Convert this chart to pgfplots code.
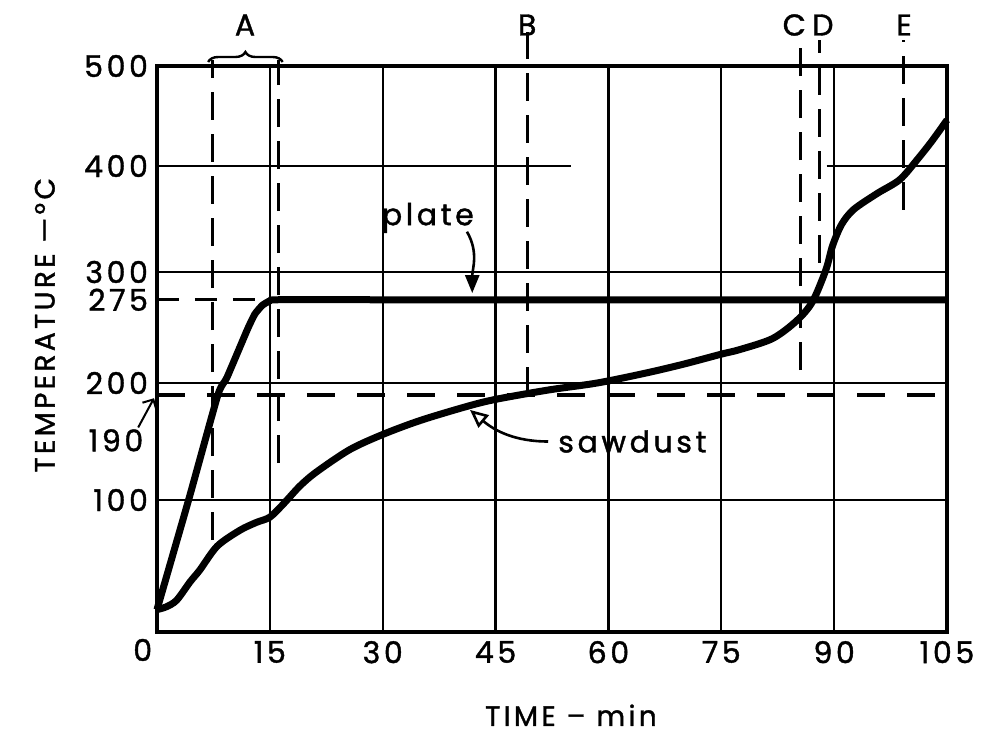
\documentclass[border=0pt]{standalone}
\usepackage{pgfplots}
\pgfplotsset{compat=1.18}
\usepackage{fontspec}
\setmainfont{Poppins}[LetterSpace=12, FakeBold=1.3]
\usetikzlibrary{decorations.pathreplacing,arrows.meta}

\begin{document}
\begin{tikzpicture}[font=\fontsize{15}{17}\selectfont]
\begin{axis}[
  at={(0,0)}, anchor=south west,
  scale only axis, width=395pt, height=283pt,
  xmin=0, xmax=105, ymin=0, ymax=500,
  y coord trafo/.code={\pgfmathparse{1.32*min(#1,100)+1.17*max(min(#1,200)-100,0)+1.11*max(min(#1,300)-200,0)+1.06*max(min(#1,400)-300,0)+max(#1-400,0)}},
  clip=false,
  axis line style={line width=2pt},
  xtick={15,30,45,60,75,90,105},
  xticklabels={15,30,45,60,75,90,105},
  ytick={100,200,275,300,400,500},
  yticklabels={100,200,275,300,400,500},
  tick style={draw=none},
  xmajorgrids,
  grid style={line width=1.1pt, black},
  xticklabel style={yshift=-1pt},
  yticklabel style={xshift=-1pt},
]
% horizontal grid lines
\addplot[black, line width=1.1pt] coordinates {(0,100) (105,100)};
\addplot[black, line width=1.1pt] coordinates {(0,200) (105,200)};
\addplot[black, line width=1.1pt] coordinates {(0,300) (105,300)};
\addplot[black, line width=1.1pt] coordinates {(0,400) (55,400)};
\addplot[black, line width=1.1pt] coordinates {(89,400) (105,400)};
% guide lines
\addplot[black, line width=1.5pt, dash pattern=on 11pt off 8pt] coordinates {(0,275) (15.5,275)};
\addplot[black, line width=2pt, dash pattern=on 14pt off 11pt] coordinates {(0,190) (105,190)};
% vertical dashed markers
\addplot[black, line width=1.5pt, dash pattern=on 14pt off 7pt] coordinates {(7.4,69.7) (7.4,506)};
\addplot[black, line width=1.5pt, dash pattern=on 14pt off 7pt] coordinates {(16.2,131.6) (16.2,506)};
\addplot[black, line width=1.5pt, dash pattern=on 14pt off 7pt] coordinates {(49.2,190) (49.2,534)};
\addplot[black, line width=1.5pt, dash pattern=on 14pt off 7pt] coordinates {(85.5,211.7) (85.5,526)};
\addplot[black, line width=1.5pt, dash pattern=on 14pt off 7pt] coordinates {(88.1,308.5) (88.1,526)};
\addplot[black, line width=1.5pt, dash pattern=on 14pt off 7pt] coordinates {(99.2,358.5) (99.2,526)};
% plate
\addplot[black, line width=3.5pt, smooth, tension=0.3] coordinates {
  (0,17) (4.2,100) (8.1,190) (9.3,205) (12,248) (13,262) (14,270) (15,274) (16,275) (30,275) (60,275) (105,275)};
% sawdust
\addplot[black, line width=3.5pt, smooth, tension=0.5] coordinates {
  (0,17) (1.2,19) (2.6,24) (4.4,38) (5.7,47) (8,65) (11,77) (13.2,83) (15,87)
  (16.8,97) (19,112) (21.2,124) (25.6,143) (30,156) (35,168) (41.2,180)
  (45,186) (52,194) (58.5,200) (65,209) (70,217) (75,226) (77.4,230)
  (81.8,240) (85,256) (87.1,273) (88.9,302) (89.8,325) (91,345) (92.6,359)
  (95.7,374) (98.7,387) (101,406) (103,425) (105,446)};
% letters and brace
\node at (axis cs:11.7,541) {A};
\node at (axis cs:49.2,541) {B};
\node at (axis cs:84.7,541) {C};
\node at (axis cs:88.5,541) {D};
\node at (axis cs:99.3,541) {E};
\draw[decorate, decoration={brace, amplitude=5pt}, line width=1.2pt] (axis cs:6.8,504) -- (axis cs:16.7,504);
% origin and 190 labels
\node at (axis cs:-1.9,-13.6) {0};
\node at (axis cs:-5.45,151) {190};
\draw[line width=1pt, -{Straight Barb[length=4pt]}] (axis cs:-2.5,162) -- (axis cs:-0.4,187);
% plate annotation
\node at (axis cs:36.0,351) {plate};
\draw[line width=1.3pt, -{Triangle[length=9pt,width=7pt]}] (axis cs:41.2,338) to[out=-60,in=90] (axis cs:41.9,281);
% sawdust annotation
\node[anchor=west] at (axis cs:52.4,150) {sawdust};
\draw[line width=1.3pt, -{Triangle[open,length=9pt,width=8pt,line width=1.3pt]}] (axis cs:52,150) to[out=180,in=-40] (axis cs:41.6,177);
% axis labels
\node[font=\fontsize{14}{16}\selectfont] at (axis description cs:0.524,-0.147) {TIME – min};
\node[font=\fontsize{14}{16}\selectfont, rotate=90] at (axis description cs:-0.142,0.542) {TEMPERATURE —°C};
\end{axis}
\pgfresetboundingbox
\path (-78.5pt,-57pt) rectangle (417pt,316pt);
\end{tikzpicture}
\end{document}
